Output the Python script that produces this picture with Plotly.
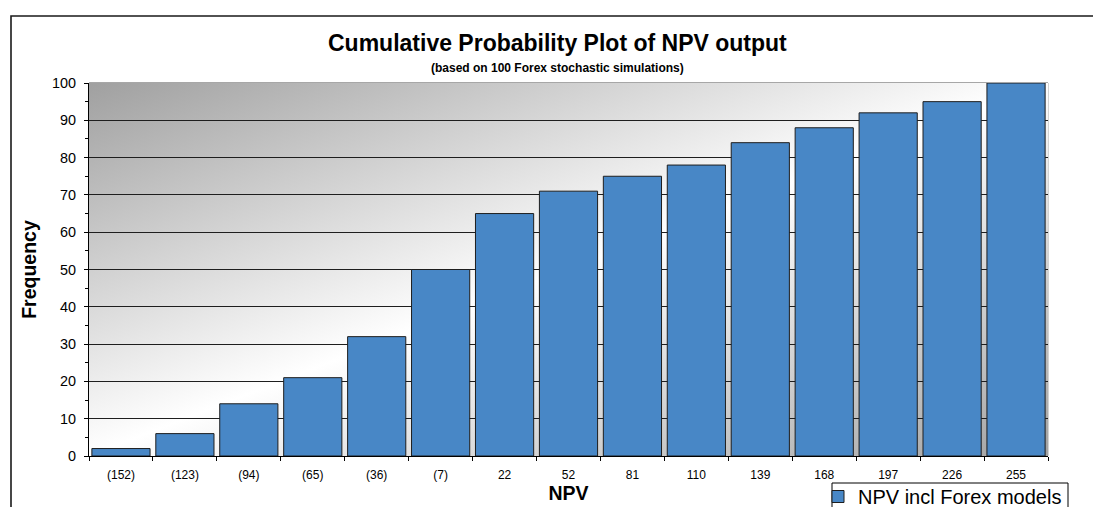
import base64
import plotly.graph_objects as go

# ---- data ----
npv_labels = ["(152)", "(123)", "(94)", "(65)", "(36)", "(7)", "22", "52",
              "81", "110", "139", "168", "197", "226", "255"]
cum_freq = [2, 6, 14, 21, 32, 50, 65, 71, 75, 78, 84, 88, 92, 95, 100]
series_name = "NPV incl Forex models"
title_text = "Cumulative Probability Plot of NPV output"
subtitle_text = "(based on 100 Forex stochastic simulations)"

W, H = 1093, 507
L, R, T, B = 89, 45, 83, 51
PW, PH = W - L - R, H - T - B


def px_x(p):
    return (p - L) / PW


def px_y(p):
    return (H - B - p) / PH


FONT = "Liberation Sans, Arial, sans-serif"

svg = (
    "<svg xmlns='http://www.w3.org/2000/svg' width='959' height='373' preserveAspectRatio='none'>"
    "<defs><linearGradient id='g' x1='0' y1='0' x2='1' y2='1'>"
    "<stop offset='0' stop-color='#a0a0a0'/>"
    "<stop offset='0.5' stop-color='#ffffff'/>"
    "<stop offset='1' stop-color='#a2a2a2'/>"
    "</linearGradient></defs>"
    "<rect width='100%' height='100%' fill='url(#g)'/></svg>"
)
svg_uri = "data:image/svg+xml;base64," + base64.b64encode(svg.encode()).decode()

fig = go.Figure()
fig.add_trace(go.Bar(
    x=npv_labels, y=cum_freq, name=series_name,
    marker=dict(color="#4887c6", line=dict(color="#1e1e1e", width=1)),
    showlegend=True,
))

fig.update_layout(
    width=W, height=H,
    margin=dict(l=L, r=R, t=T, b=B, autoexpand=False),
    paper_bgcolor="white", plot_bgcolor="white",
    font=dict(family=FONT, color="black"),
    bargap=0.09,
    showlegend=True,
    legend=dict(
        x=px_x(818), y=px_y(477), xanchor="left", yanchor="top",
        borderwidth=0, bgcolor="rgba(0,0,0,0)",
        itemwidth=30,
        font=dict(size=20, family=FONT, color="black"),
    ),
    xaxis=dict(
        type="category",
        showline=True, linecolor="black", linewidth=1,
        ticks="outside", ticklen=4, tickcolor="black", tickson="boundaries",
        tickfont=dict(size=12, family=FONT),
        ticklabelstandoff=8,
        showgrid=False,
        title=dict(text="<b>NPV</b>", font=dict(size=19.5, family=FONT), standoff=2),
    ),
    yaxis=dict(
        range=[0, 100], dtick=10, tick0=0,
        showline=True, linecolor="black", linewidth=1,
        ticks="outside", ticklen=4, tickcolor="black",
        tickfont=dict(size=14.4, family=FONT),
        ticklabelstandoff=5,
        showgrid=True, gridcolor="#1e1e1e", gridwidth=1,
        zeroline=False,
        minor=dict(dtick=5, ticks="outside", ticklen=3, tickcolor="black", showgrid=False),
        title=dict(text="<b>Frequency</b>", font=dict(size=19.5, family=FONT), standoff=10),
    ),
    images=[dict(
        source=svg_uri, xref="x domain", yref="y domain",
        x=0, y=1, sizex=1, sizey=1, xanchor="left", yanchor="top",
        sizing="stretch", layer="below",
    )],
    shapes=[
        # outer chart border
        dict(type="rect", xref="paper", yref="paper",
             x0=px_x(11), x1=px_x(1110), y0=px_y(530), y1=px_y(16),
             line=dict(color="#1a1a1a", width=1.6), fillcolor="rgba(0,0,0,0)"),
        # legend frame
        dict(type="rect", xref="paper", yref="paper", layer="below",
             x0=px_x(832), x1=px_x(1068), y0=px_y(530), y1=px_y(483),
             line=dict(color="black", width=1), fillcolor="white"),
        # plot area top / right border
        dict(type="line", xref="paper", yref="paper", layer="between",
             x0=0, x1=1, y0=1, y1=1, line=dict(color="#8a8a8a", width=1.5)),
        dict(type="line", xref="paper", yref="paper", layer="between",
             x0=1, x1=1, y0=0, y1=1, line=dict(color="#c4c4c4", width=1.5)),
    ],
    annotations=[
        dict(text="<b>" + title_text + "</b>", xref="paper", yref="paper",
             x=px_x(557), y=px_y(43), xanchor="center", yanchor="middle",
             showarrow=False, font=dict(size=23, family=FONT)),
        dict(text="<b>" + subtitle_text + "</b>", xref="paper", yref="paper",
             x=px_x(557), y=px_y(68), xanchor="center", yanchor="middle",
             showarrow=False, font=dict(size=12, family=FONT)),
    ],
)

fig.write_html("out.html")
